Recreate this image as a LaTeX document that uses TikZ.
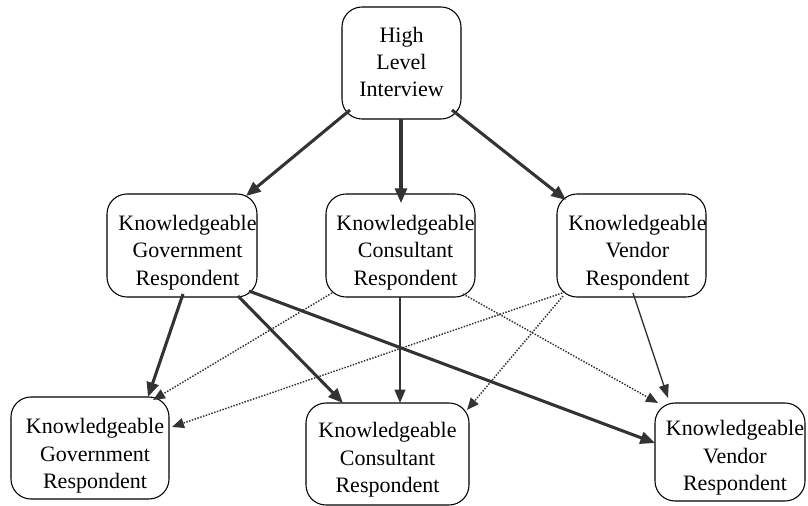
\documentclass[tikz,border=0pt]{standalone}
\usepackage{fontspec}
\setmainfont{Liberation Serif}
\usetikzlibrary{arrows.meta}
\definecolor{ink}{HTML}{333333}
\tikzset{
  box/.style={draw=black, line width=0.8pt, rounded corners=15pt, inner sep=0pt},
  lbl/.style={font=\fontsize{16.5}{20.5}\selectfont, align=center, inner sep=0pt},
  thick arrow/.style={draw=ink, line width=2.3pt, -{Triangle[length=11pt,width=9pt]}},
  mid arrow/.style={draw=ink, line width=1.5pt, -{Triangle[length=10pt,width=8pt]}},
  thin arrow/.style={draw=ink, line width=1pt, -{Triangle[length=10pt,width=7.5pt]}},
  dot arrow/.style={draw=ink, line width=1.1pt, dash pattern=on 1.1pt off 1.1pt, -{Triangle[length=9pt,width=7.5pt]}},
}
\begin{document}
\begin{tikzpicture}[x=0.75pt, y=-0.75pt]
\useasboundingbox (0,0) rectangle (808,506);
% boxes
\node[box, minimum width=89.25pt, minimum height=84pt] (top) at (401.5,63) {};
\node[box, minimum width=112.5pt, minimum height=77.25pt] (gm) at (182,245.5) {};
\node[box, minimum width=111.75pt, minimum height=77.25pt] (cm) at (400.5,245.5) {};
\node[box, minimum width=111.75pt, minimum height=77.25pt] (vm) at (631.5,245.5) {};
\node[box, minimum width=118.5pt, minimum height=76.5pt] (gb) at (90,448) {};
\node[box, minimum width=122.25pt, minimum height=76.5pt] (cb) at (387.5,454) {};
\node[box, minimum width=112.5pt, minimum height=73.5pt] (vb) at (730,452) {};
% texts
\node[lbl] (topt) at ([shift={(0,-1)}]top.center) {High\\Level\\Interview};
\node[lbl] (gmt) at ([shift={(5.5,7)}]gm.center) {Knowledgeable\\Government\\Respondent};
\node[lbl] (cmt) at ([shift={(5,7)}]cm.center) {Knowledgeable\\Consultant\\Respondent};
\node[lbl] (vmt) at ([shift={(6,7)}]vm.center) {Knowledgeable\\Vendor\\Respondent};
\node[lbl] (gbt) at ([shift={(5,8)}]gb.center) {Knowledgeable\\Government\\Respondent};
\node[lbl] (cbt) at ([shift={(0,6)}]cb.center) {Knowledgeable\\Consultant\\Respondent};
\node[lbl] (vbt) at ([shift={(5,6)}]vb.center) {Knowledgeable\\Vendor\\Respondent};
% connectors
\draw[thick arrow] ([shift={(-51.5,47)}]top.center) -- ([shift={(64,-49.5)}]gm.center);
\draw[thick arrow] ([shift={(-0.5,56)}]top.center) -- ([shift={(0.5,-42.5)}]cm.center);
\draw[thick arrow] ([shift={(50.5,47)}]top.center) -- ([shift={(-65.5,-45.5)}]vm.center);
\draw[thick arrow] ([shift={(1,48.5)}]gm.center) -- ([shift={(58,-51)}]gb.center);
\draw[thick arrow] ([shift={(56,50.5)}]gm.center) -- ([shift={(-44.5,-51)}]cb.center);
\draw[thick arrow] ([shift={(67,45.5)}]gm.center) -- ([shift={(-75,-9)}]vb.center);
\draw[mid arrow] ([shift={(-0.5,51.5)}]cm.center) -- ([shift={(12.5,-51)}]cb.center);
\draw[dot arrow] ([shift={(-68.5,47.5)}]cm.center) -- ([shift={(63,-48)}]gb.center);
\draw[dot arrow] ([shift={(62.5,48.5)}]cm.center) -- ([shift={(-72,-49)}]vb.center);
\draw[dot arrow] ([shift={(-66.5,46.5)}]vm.center) -- ([shift={(82,-21)}]gb.center);
\draw[dot arrow] ([shift={(-68.5,50.5)}]vm.center) -- ([shift={(79.5,-44)}]cb.center);
\draw[thin arrow] ([shift={(1.5,47.5)}]vm.center) -- ([shift={(-62,-54)}]vb.center);
\end{tikzpicture}
\end{document}
